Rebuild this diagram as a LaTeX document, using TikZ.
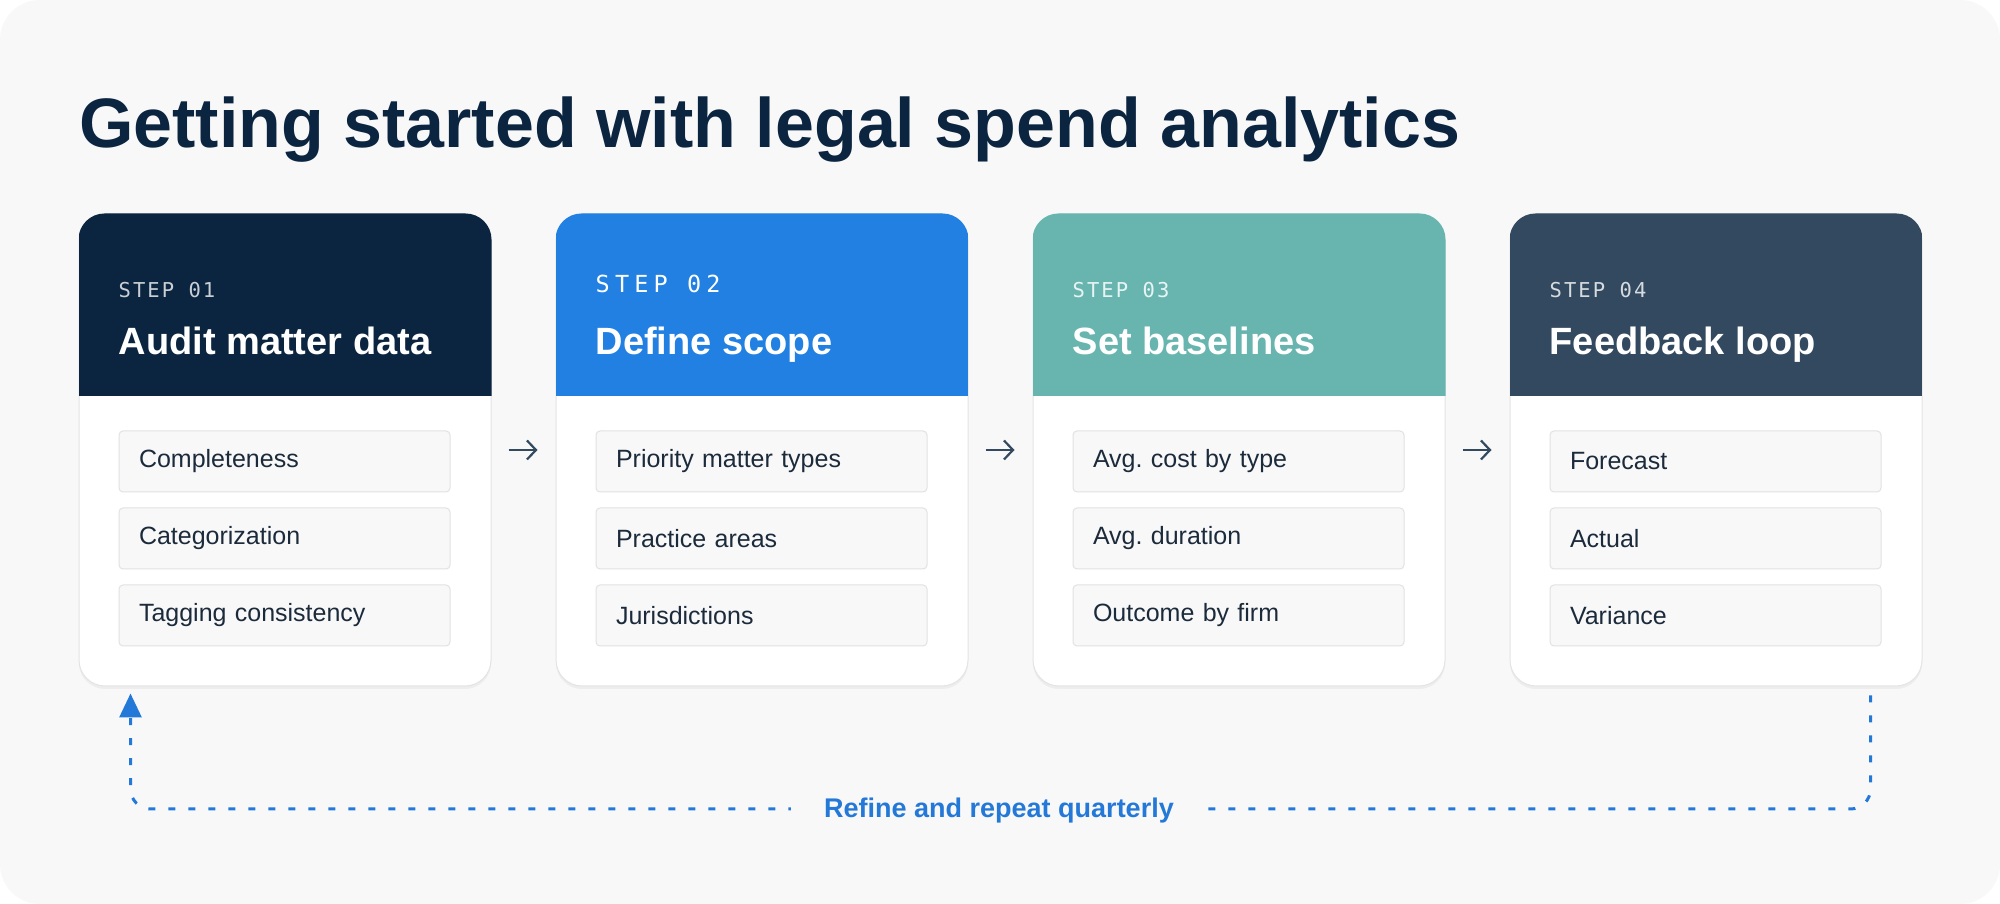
\documentclass[tikz,border=0pt]{standalone}
\usepackage{fontspec}
\setmainfont{Liberation Sans}
\newfontfamily\stepfont[LetterSpace=10]{DejaVu Sans Mono}
\newfontfamily\stepfontwide[LetterSpace=22]{DejaVu Sans Mono}
\usepackage{xcolor}
\usetikzlibrary{arrows.meta,calc,positioning}
\frenchspacing

\definecolor{bgcol}{HTML}{F8F8F8}
\definecolor{navy}{HTML}{0B2540}
\definecolor{skyblue}{HTML}{2180E2}
\definecolor{teal}{HTML}{68B5B0}
\definecolor{slate}{HTML}{33495F}
\definecolor{cardline}{HTML}{E4E4E4}
\definecolor{cardshade}{HTML}{EDEDED}
\definecolor{itemfill}{HTML}{F8F8F8}
\definecolor{itemline}{HTML}{E2E2E2}
\definecolor{itemtext}{HTML}{1C2B3B}
\definecolor{loopblue}{HTML}{2479D8}

\tikzset{
  card/.style={draw=cardline, line width=1pt, fill=white, rounded corners=26pt,
    minimum width=412pt, minimum height=472pt, inner sep=0pt},
  cardshadow/.style={fill=cardshade, rounded corners=26pt},
  steplbl/.style={anchor=base west, inner sep=0pt, font=\stepfont\fontsize{20.5}{24}\selectfont},
  steptitle/.style={anchor=base west, inner sep=0pt, text=white,
    font=\fontsize{38}{44}\selectfont\bfseries},
  itembox/.style={draw=itemline, line width=1pt, fill=itemfill, rounded corners=4pt,
    anchor=north west, inner xsep=20pt, inner ysep=0pt, text width=291pt,
    minimum height=61pt, align=left, text=itemtext, font=\fontsize{25}{30}\selectfont},
  steparrow/.style={draw=slate, line width=2.2pt, -{Straight Barb[length=9pt,width=19pt]}},
  loopline/.style={draw=loopblue, line width=3pt, dash pattern=on 7pt off 13pt,
    rounded corners=20pt, -{Triangle[length=24pt,width=22pt]}},
  looplbl/.style={fill=bgcol, inner xsep=33pt, inner ysep=4pt, text=loopblue,
    font=\fontsize{27}{32}\selectfont\bfseries}
}

\begin{document}
\begin{tikzpicture}[x=1pt,y=1pt]

% Background panel
\fill[white] (0,0) rectangle (2000,904);
\fill[bgcol, rounded corners=40pt] (0,0) rectangle (2000,904);
\useasboundingbox (0,0) rectangle (2000,904);

% Title
\node[anchor=base west, inner sep=0pt, text=navy, font=\fontsize{70}{80}\selectfont\bfseries]
  (title) at (79,756) {Getting started with legal spend analytics};

% Card shadows
\fill[cardshadow] (79,215) rectangle (491,687);
\fill[cardshadow] (556,215) rectangle (968,687);
\fill[cardshadow] (1033,215) rectangle (1445,687);
\fill[cardshadow] (1510,215) rectangle (1922,687);

% Cards
\node[card] (c1) at (285,454) {};
\node[card] (c2) at (762,454) {};
\node[card] (c3) at (1239,454) {};
\node[card] (c4) at (1716,454) {};

% Card headers
\begin{scope}
  \clip[rounded corners=26pt] (c1.south west) rectangle (c1.north east);
  \fill[navy] (c1.north west) rectangle ([yshift=-183pt]c1.north east);
\end{scope}
\begin{scope}
  \clip[rounded corners=26pt] (c2.south west) rectangle (c2.north east);
  \fill[skyblue] (c2.north west) rectangle ([yshift=-183pt]c2.north east);
\end{scope}
\begin{scope}
  \clip[rounded corners=26pt] (c3.south west) rectangle (c3.north east);
  \fill[teal] (c3.north west) rectangle ([yshift=-183pt]c3.north east);
\end{scope}
\begin{scope}
  \clip[rounded corners=26pt] (c4.south west) rectangle (c4.north east);
  \fill[slate] (c4.north west) rectangle ([yshift=-183pt]c4.north east);
\end{scope}

% Step labels
\node[steplbl, text=white!78!navy] (s1) at ([xshift=40pt,yshift=-84pt]c1.north west) {STEP 01};
\node[steplbl, text=white, font=\stepfontwide\fontsize{23.5}{28}\selectfont]
  (s2) at ([xshift=40pt,yshift=-79pt]c2.north west) {STEP 02};
\node[steplbl, text=white!85!teal] (s3) at ([xshift=40pt,yshift=-84pt]c3.north west) {STEP 03};
\node[steplbl, text=white!80!slate] (s4) at ([xshift=40pt,yshift=-84pt]c4.north west) {STEP 04};

% Step titles
\node[steptitle] (t1) at ([xshift=40pt,yshift=-141pt]c1.north west) {Audit matter data};
\node[steptitle] (t2) at ([xshift=40pt,yshift=-141pt]c2.north west) {Define scope};
\node[steptitle] (t3) at ([xshift=40pt,yshift=-141pt]c3.north west) {Set baselines};
\node[steptitle] (t4) at ([xshift=40pt,yshift=-141pt]c4.north west) {Feedback loop};

% Items, card 1
\node[itembox] (i11) at ([xshift=40pt,yshift=-217pt]c1.north west) {Completeness};
\node[itembox] (i12) at ([xshift=40pt,yshift=-294pt]c1.north west) {Categorization};
\node[itembox] (i13) at ([xshift=40pt,yshift=-371pt]c1.north west) {Tagging consistency};

% Items, card 2
\node[itembox] (i21) at ([xshift=40pt,yshift=-217pt]c2.north west) {Priority matter types};
\node[itembox] (i22) at ([xshift=40pt,yshift=-294pt]c2.north west) {Practice areas};
\node[itembox] (i23) at ([xshift=40pt,yshift=-371pt]c2.north west) {Jurisdictions};

% Items, card 3
\node[itembox] (i31) at ([xshift=40pt,yshift=-217pt]c3.north west) {Avg. cost by type};
\node[itembox] (i32) at ([xshift=40pt,yshift=-294pt]c3.north west) {Avg. duration};
\node[itembox] (i33) at ([xshift=40pt,yshift=-371pt]c3.north west) {Outcome by firm};

% Items, card 4
\node[itembox] (i41) at ([xshift=40pt,yshift=-217pt]c4.north west) {Forecast};
\node[itembox] (i42) at ([xshift=40pt,yshift=-294pt]c4.north west) {Actual};
\node[itembox] (i43) at ([xshift=40pt,yshift=-371pt]c4.north west) {Variance};

% Arrows between steps
\draw[steparrow] ([xshift=17pt]c1.east) -- ([xshift=-18pt]c2.west);
\draw[steparrow] ([xshift=17pt]c2.east) -- ([xshift=-18pt]c3.west);
\draw[steparrow] ([xshift=17pt]c3.east) -- ([xshift=-18pt]c4.west);

% Feedback loop back to step 1
\coordinate (loopR) at ([xshift=-52pt,yshift=-9pt]c4.south east);
\coordinate (loopL) at ([xshift=52pt,yshift=-7pt]c1.south west);
\draw[loopline] (loopR) -- (loopR |- 0,95) -- (loopL |- 0,95) -- (loopL);
\node[looplbl] (lbl) at (999,93) {Refine and repeat quarterly};

\end{tikzpicture}
\end{document}
